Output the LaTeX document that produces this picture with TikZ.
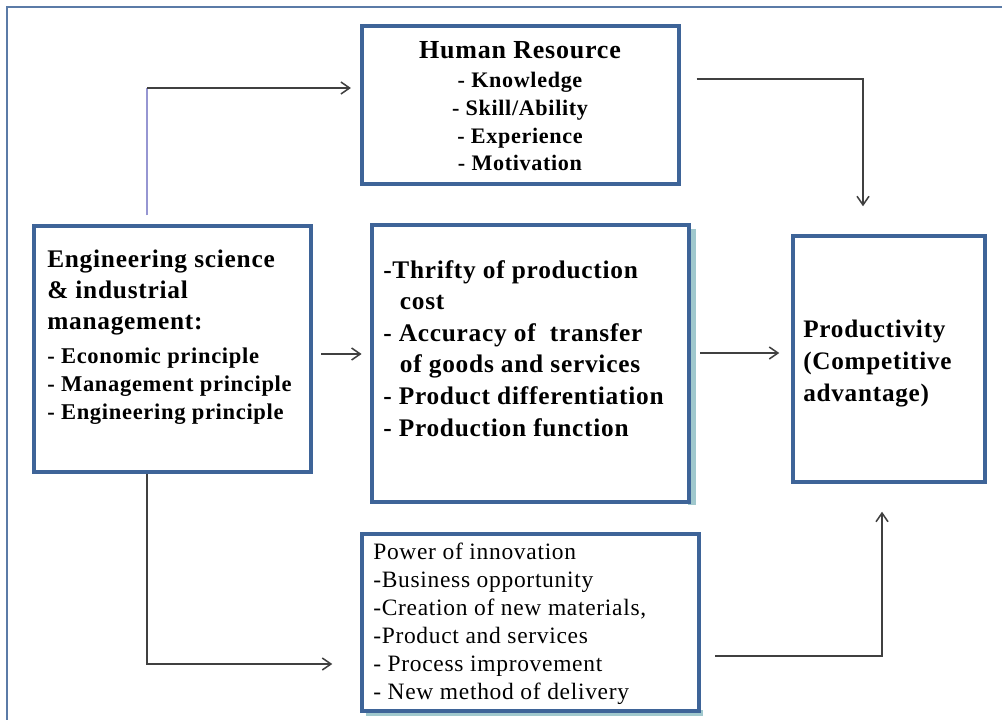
\documentclass[tikz,border=0pt]{standalone}
\usepackage{fontspec}
\setmainfont{Liberation Serif}[LetterSpace=3]
\usetikzlibrary{arrows.meta,fit}
\definecolor{boxblue}{RGB}{62,100,152}
\definecolor{shadowteal}{RGB}{160,200,205}
\definecolor{linegray}{RGB}{64,64,64}
\definecolor{linepurple}{RGB}{150,150,210}
\begin{document}
\begin{tikzpicture}[x=0.75pt,y=-0.75pt,
  box/.style={draw=boxblue, line width=2.6pt, inner sep=0pt, fill=white},
  conn/.style={draw=linegray, line width=1.15pt},
  arr/.style={conn, -{Straight Barb[length=6.5pt,width=9pt]}},
  txt/.style={inner sep=0pt, align=left},
  ctxt/.style={inner sep=0pt, align=center}
]
\useasboundingbox (0,0) rectangle (1002,720);
\clip (0,0) rectangle (1002,720);
\draw[draw=boxblue!85, line width=1.6pt] (7,7) rectangle (1030,750);

% shadows
\fill[shadowteal] (688,229) rectangle (696,505);
\fill[shadowteal] (366,710) rectangle (703,716);

% boxes
\node[box, fit={(362,26) (679,184)}] (hr) {};
\node[box, fit={(34,226) (311,472)}] (eng) {};
\node[box, fit={(372,225) (689,502)}] (mid) {};
\node[box, fit={(793,236) (985,482)}] (prod) {};
\node[box, fit={(362,534) (699,711)}] (innov) {};

% texts
\node[ctxt, anchor=north, font=\fontsize{19.5}{23}\selectfont\bfseries] (hrtitle) at (520,41) {Human Resource};
\node[ctxt, anchor=north, font=\fontsize{16.6}{20.8}\selectfont\bfseries] (hritems) at (520,72)
  {- Knowledge\\- Skill/Ability\\- Experience\\- Motivation};

\node[txt, anchor=north west, font=\fontsize{19}{23.25}\selectfont\bfseries] (enghead) at (47,250)
  {Engineering science\\\& industrial\\management:};
\node[txt, anchor=north west, font=\fontsize{16.9}{21}\selectfont\bfseries] (engitems) at (47,348)
  {- Economic principle\\- Management principle\\- Engineering principle};

\node[txt, anchor=north west, font=\fontsize{19}{23.7}\selectfont\bfseries] (midtxt) at (383,260)
  {-Thrifty of production\\\hspace*{12.5pt}cost\\- Accuracy of\ \ transfer\\\hspace*{12.5pt}of goods and services\\- Product differentiation\\- Production function};

\node[txt, anchor=north west, font=\fontsize{18.9}{24}\selectfont\bfseries] (prodtxt) at (803,320)
  {Productivity\\(Competitive\\advantage)};

\node[txt, anchor=north west, font=\fontsize{17.6}{21}\selectfont] (innovtxt) at (373,543)
  {Power of innovation\\-Business opportunity\\-Creation of new materials,\\-Product and services\\- Process improvement\\- New method of delivery};

% connector coordinates
\coordinate (c1) at (147,88);
\coordinate (c2) at (863,79);
\coordinate (y3) at (0,354);
\coordinate (y4) at (0,353);
\coordinate (c5) at (147,664);
\coordinate (c6) at (882,656);

% connectors
\draw[draw=linepurple, line width=1.15pt] ([yshift=6.75pt]eng.north -| c1) -- (c1);
\draw[arr, shorten >=7pt] (c1) -- (hr.west |- c1);
\draw[arr, shorten <=12pt, shorten >=21pt] (hr.east |- c2) -- (c2) -- (c2 |- prod.north);
\draw[arr, shorten <=6.5pt, shorten >=6.5pt] (eng.east |- y3) -- (mid.west |- y3);
\draw[arr, shorten <=7pt, shorten >=9pt] (mid.east |- y4) -- (prod.west |- y4);
\draw[arr, shorten >=21pt] (eng.south -| c5) -- (c5) -- (innov.west |- c5);
\draw[arr, shorten <=11pt, shorten >=21pt] (innov.east |- c6) -- (c6) -- (c6 |- prod.south);
\end{tikzpicture}
\end{document}
